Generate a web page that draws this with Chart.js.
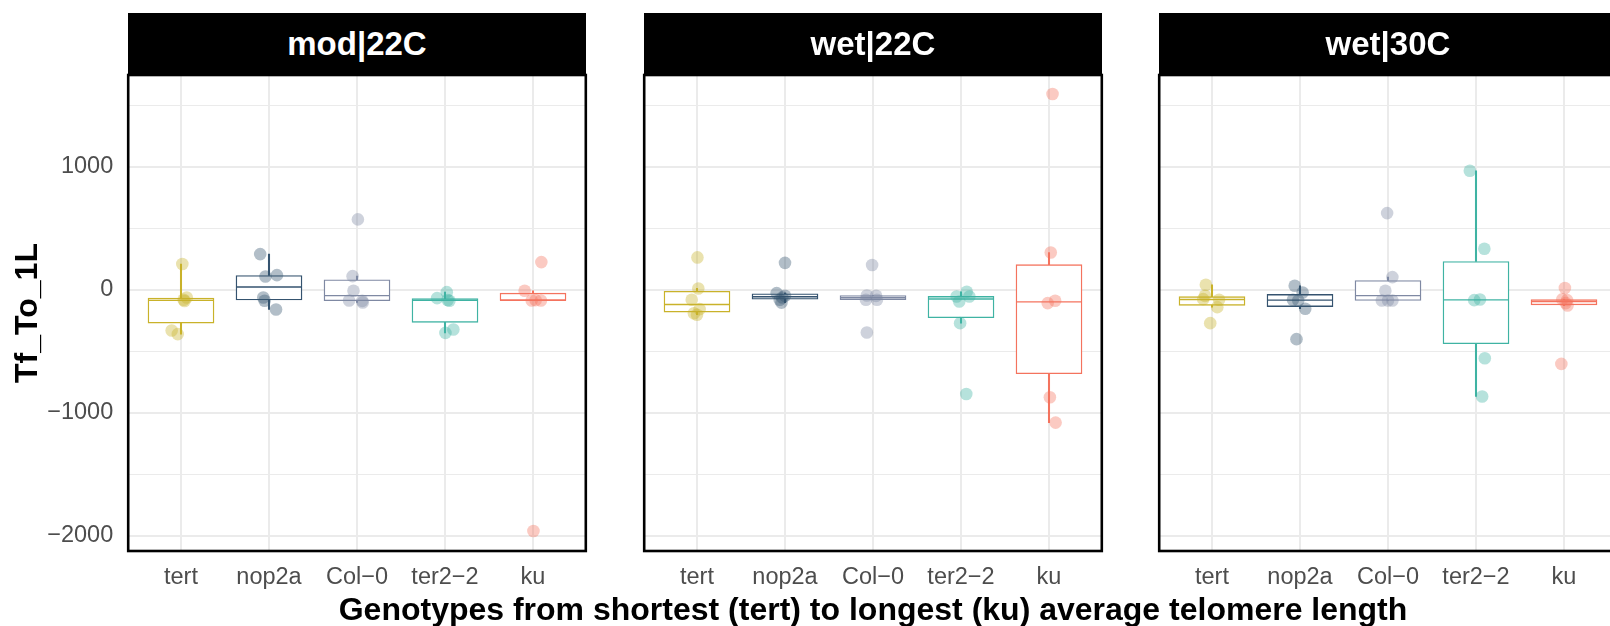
<!DOCTYPE html>
<html>
<head>
<meta charset="utf-8">
<script src="https://cdn.jsdelivr.net/npm/chart.js@4.4.0/dist/chart.umd.min.js"></script>
<style>
  body {
    margin: 0;
    width: 1610px;
    height: 626px;
    overflow: hidden;
    background: #fff;
    position: relative;
    font-family: "Liberation Sans", Arial, sans-serif;
  }
  canvas { position: absolute; top: 0; }
  .strip {
    position: absolute;
    top: 13px;
    height: 62px;
    background: #000;
    color: #fff;
    font-weight: bold;
    font-size: 33px;
    line-height: 62px;
    text-align: center;
  }
  #xtitle {
    position: absolute;
    left: 0;
    width: 1746px;
    top: 593px;
    font-size: 32px;
    line-height: 32px;
    font-weight: bold;
    text-align: center;
    color: #000;
    white-space: nowrap;
  }
</style>
</head>
<body>
<canvas id="p0" width="626" height="626" style="left:0px"></canvas>
<canvas id="p1" width="538" height="626" style="left:604px"></canvas>
<canvas id="p2" width="538" height="626" style="left:1119px"></canvas>
<div class="strip" id="s0"></div>
<div class="strip" id="s1"></div>
<div class="strip" id="s2"></div>
<div id="xtitle">Genotypes from shortest (tert) to longest (ku) average telomere length</div>
<script>
const facets = ["mod|22C", "wet|22C", "wet|30C"];
const genotypes = ["tert", "nop2a", "Col−0", "ter2−2", "ku"];
const yTicks = [-2000, -1500, -1000, -500, 0, 500, 1000, 1500];

// Tf_To_1L per plant, one list per genotype
const mod22C = [
  [209, -63, -81, -91, -331, -360],
  [290, 108, 119, -63, -89, -160],
  [572, 111, -8, -87, -90, -103],
  [-19, -68, -83, -89, -323, -350],
  [225, -8, -84, -87, -87, -1959],
];
const wet22C = [
  [263, 11, -81, -157, -190, -203],
  [219, -27, -49, -63, -81, -104],
  [201, -46, -49, -81, -81, -347],
  [-16, -54, -54, -95, -271, -846],
  [1591, 303, -89, -108, -873, -1079],
];
const wet30C = [
  [41, -49, -76, -81, -141, -271],
  [33, -22, -81, -87, -154, -401],
  [623, 103, -8, -87, -87, -87],
  [967, 333, -79, -84, -556, -867],
  [14, -78, -84, -108, -128, -602],
];

// horizontal jitter of each point, in category units
const mod22CJitter = [
  [0.015, 0.065, 0.03, 0.04, -0.106, -0.037],
  [-0.1, -0.04, 0.09, -0.065, -0.05, 0.08],
  [0.01, -0.05, -0.04, -0.09, 0.06, 0.065],
  [0.02, -0.09, 0.03, 0.05, 0.095, 0.005],
  [0.095, -0.095, 0.03, -0.015, 0.09, 0.005],
];
const wet22CJitter = [
  [0.005, 0.015, -0.06, 0.03, -0.035, 0],
  [0, -0.095, 0, -0.03, -0.06, -0.04],
  [-0.01, -0.07, 0.035, -0.08, 0.045, -0.07],
  [0.065, -0.05, 0.095, -0.02, -0.01, 0.06],
  [0.04, 0.02, 0.07, -0.015, 0.01, 0.075],
];
const wet30CJitter = [
  [-0.07, -0.08, -0.1, 0.08, 0.06, -0.02],
  [-0.06, 0.03, -0.08, -0.02, 0.06, -0.04],
  [-0.01, 0.05, -0.03, -0.07, 0.05, 0],
  [-0.07, 0.095, 0.045, -0.02, 0.1, 0.07],
  [0.01, -0.02, 0.035, 0.02, 0.04, -0.03],
];

const facetValues = [mod22C, wet22C, wet30C];
const facetJitter = [mod22CJitter, wet22CJitter, wet30CJitter];

const colors = ["#C9B22A", "#35536F", "#7F89A3", "#3FB3A3", "#F4735E"];

// layout of the three panels (px)
const panelLeft = [128.2, 644.2, 1159.2];
const panelWidth = 457.6;
const canvasLeft = [0, 604, 1119];
const canvasWidth = [626, 538, 538];
const plotTop = 75;
const plotBottom = 551;

function rgba(hex, a) {
  const n = parseInt(hex.slice(1), 16);
  return "rgba(" + (n >> 16) + "," + ((n >> 8) & 255) + "," + (n & 255) + "," + a + ")";
}

// type 7 quantile, same as R
function quantile(sorted, p) {
  const h = (sorted.length - 1) * p;
  const lo = Math.floor(h);
  const hi = Math.min(lo + 1, sorted.length - 1);
  return sorted[lo] + (h - lo) * (sorted[hi] - sorted[lo]);
}

function boxStats(values) {
  const s = values.slice().sort((a, b) => a - b);
  const q1 = quantile(s, 0.25);
  const med = quantile(s, 0.5);
  const q3 = quantile(s, 0.75);
  const iqr = q3 - q1;
  const lo = s.filter((v) => v >= q1 - 1.5 * iqr)[0];
  const hiList = s.filter((v) => v <= q3 + 1.5 * iqr);
  const hi = hiList[hiList.length - 1];
  return { q1, med, q3, lo, hi };
}

function fmtTick(v) {
  if (v % 1000 !== 0) return "";
  return v < 0 ? "−" + Math.abs(v) : String(v);
}

const panelBorder = {
  id: "panelBorder",
  afterDraw(chart) {
    const { ctx, chartArea: a } = chart;
    ctx.save();
    ctx.strokeStyle = "#000";
    ctx.lineWidth = 2.6;
    ctx.strokeRect(a.left, a.top, a.right - a.left, a.bottom - a.top);
    ctx.restore();
  },
};

function makePanel(p) {
  const values = facetValues[p];
  const jitter = facetJitter[p];

  const points = [];
  const boxes = [];
  const lowWhisker = [];
  const highWhisker = [];
  const medians = [];

  values.forEach((list, g) => {
    const st = boxStats(list);
    boxes.push({ x: g + 1, y: [st.q1, st.q3] });
    lowWhisker.push({ x: g + 1, y: [st.lo, st.q1] });
    highWhisker.push({ x: g + 1, y: [st.q3, st.hi] });
    medians.push({ x: g + 1, y: st.med });
    list.forEach((v, k) => {
      points.push({ x: g + 1 + jitter[g][k], y: v, g: g });
    });
  });

  const left = p === 0 ? 0 : panelLeft[p] - canvasLeft[p];
  const right = canvasLeft[p] + canvasWidth[p] - (panelLeft[p] + panelWidth);

  const config = {
    type: "bar",
    data: {
      datasets: [
        {
          type: "scatter",
          data: points,
          order: 0,
          pointRadius: 6.3,
          borderWidth: 0,
          backgroundColor: (c) => rgba(colors[c.raw ? c.raw.g : 0], 0.38),
        },
        {
          type: "scatter",
          data: medians,
          order: 1,
          pointStyle: "line",
          pointRadius: 33,
          borderWidth: 1.4,
          borderColor: colors,
        },
        {
          data: boxes,
          order: 2,
          grouped: false,
          barThickness: 66,
          backgroundColor: "#fff",
          borderColor: colors,
          borderWidth: 1.4,
          borderSkipped: false,
        },
        {
          data: lowWhisker,
          order: 3,
          grouped: false,
          barThickness: 1.4,
          backgroundColor: colors,
          borderWidth: 0,
        },
        {
          data: highWhisker,
          order: 3,
          grouped: false,
          barThickness: 1.4,
          backgroundColor: colors,
          borderWidth: 0,
        },
      ],
    },
    options: {
      responsive: false,
      animation: false,
      devicePixelRatio: 1,
      events: [],
      layout: { padding: { top: plotTop, bottom: 0, left: left, right: right } },
      plugins: { legend: { display: false }, tooltip: { enabled: false } },
      scales: {
        x: {
          type: "linear",
          min: 0.4,
          max: 5.6,
          offset: false,
          afterBuildTicks: (s) => {
            s.ticks = genotypes.map((_, i) => ({ value: i + 1 }));
          },
          afterFit: (s) => {
            s.height = 626 - plotBottom;
          },
          grid: { color: "#EBEBEB", lineWidth: 2, drawTicks: false, offset: false },
          border: { display: false },
          ticks: {
            autoSkip: false,
            maxRotation: 0,
            minRotation: 0,
            padding: 12,
            color: "#4D4D4D",
            font: { family: "Liberation Sans", size: 23.5 },
            callback: (v) => genotypes[v - 1],
          },
        },
        y: {
          type: "linear",
          min: -2122,
          max: 1745,
          afterBuildTicks: (s) => {
            s.ticks = yTicks.map((v) => ({ value: v }));
          },
          afterFit: (s) => {
            s.width = p === 0 ? panelLeft[0] : 0;
          },
          grid: {
            color: "#EBEBEB",
            drawTicks: false,
            lineWidth: (c) => (c.tick && c.tick.value % 1000 === 0 ? 2 : 1.1),
          },
          border: { display: false },
          ticks: {
            display: p === 0,
            padding: 15,
            color: "#4D4D4D",
            font: { family: "Liberation Sans", size: 23.5 },
            callback: (v) => fmtTick(v),
          },
          title: {
            display: p === 0,
            text: "Tf_To_1L",
            color: "#000",
            font: { family: "Liberation Sans", size: 32, weight: "bold" },
            padding: { top: 8.6, bottom: 0 },
          },
        },
      },
    },
    plugins: [panelBorder],
  };

  new Chart(document.getElementById("p" + p), config);

  const strip = document.getElementById("s" + p);
  strip.style.left = panelLeft[p] + "px";
  strip.style.width = panelWidth + "px";
  strip.textContent = facets[p];
}

facets.forEach((_, p) => makePanel(p));
</script>
</body>
</html>
